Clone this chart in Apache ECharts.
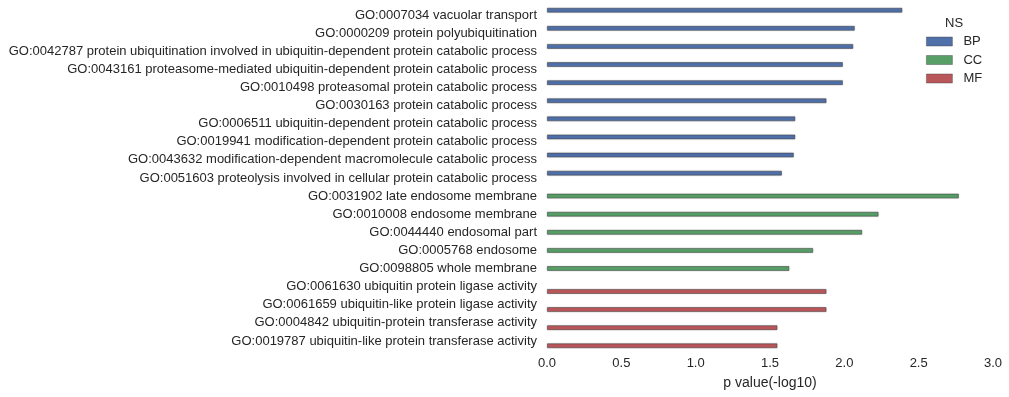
<!DOCTYPE html>
<html>
<head>
<meta charset="utf-8">
<script src="https://cdn.jsdelivr.net/npm/echarts@6/dist/echarts.min.js"></script>
<style>
html,body{margin:0;padding:0;background:#fff;}
#chart{width:1009px;height:397px;}
</style>
</head>
<body>
<div id="chart"></div>
<script>
const categories = [
  "GO:0007034 vacuolar transport",
  "GO:0000209 protein polyubiquitination",
  "GO:0042787 protein ubiquitination involved in ubiquitin-dependent protein catabolic process",
  "GO:0043161 proteasome-mediated ubiquitin-dependent protein catabolic process",
  "GO:0010498 proteasomal protein catabolic process",
  "GO:0030163 protein catabolic process",
  "GO:0006511 ubiquitin-dependent protein catabolic process",
  "GO:0019941 modification-dependent protein catabolic process",
  "GO:0043632 modification-dependent macromolecule catabolic process",
  "GO:0051603 proteolysis involved in cellular protein catabolic process",
  "GO:0031902 late endosome membrane",
  "GO:0010008 endosome membrane",
  "GO:0044440 endosomal part",
  "GO:0005768 endosome",
  "GO:0098805 whole membrane",
  "GO:0061630 ubiquitin protein ligase activity",
  "GO:0061659 ubiquitin-like protein ligase activity",
  "GO:0004842 ubiquitin-protein transferase activity",
  "GO:0019787 ubiquitin-like protein transferase activity"
];
const bpValues = [2.39, 2.07, 2.06, 1.99, 1.99, 1.88, 1.67, 1.67, 1.66, 1.58, null, null, null, null, null, null, null, null, null];
const ccValues = [null, null, null, null, null, null, null, null, null, null, 2.77, 2.23, 2.12, 1.79, 1.63, null, null, null, null];
const mfValues = [null, null, null, null, null, null, null, null, null, null, null, null, null, null, null, 1.88, 1.88, 1.55, 1.55];
const seriesNames = ["BP", "CC", "MF"];
const xTicks = [0, 0.5, 1.0, 1.5, 2.0, 2.5, 3.0];
const colors = ["#5070A9", "#579E67", "#BA575B"];

const chart = echarts.init(document.getElementById('chart'), null, {renderer: 'canvas'});
const font = 'Liberation Sans, Arial, sans-serif';
const textColor = '#262626';

function mkSeries(name, data, color) {
  return {
    name: name,
    type: 'bar',
    data: data,
    barWidth: '26.67%',
    barGap: '0%',
    itemStyle: {color: color, borderColor: 'rgba(60,60,60,0.55)', borderWidth: 0.8, shadowColor: 'rgba(0,0,0,0.25)', shadowBlur: 1.5},
    emphasis: {disabled: true},
    animation: false
  };
}

chart.setOption({
  backgroundColor: '#fff',
  animation: false,
  textStyle: {fontFamily: font},
  grid: {left: 547, right: 16, top: 6, bottom: 47, containLabel: false},
  xAxis: {
    type: 'value',
    min: xTicks[0],
    max: xTicks[xTicks.length - 1],
    interval: 0.5,
    name: 'p value(-log10)',
    nameLocation: 'middle',
    nameGap: 26,
    nameTextStyle: {fontSize: 14, color: textColor, fontFamily: font},
    axisLine: {show: false},
    axisTick: {show: false},
    splitLine: {show: false},
    axisLabel: {fontSize: 13, color: textColor, fontFamily: font, margin: 7,
      formatter: v => v.toFixed(1)}
  },
  yAxis: {
    type: 'category',
    data: categories,
    inverse: true,
    axisLine: {show: false},
    axisTick: {show: false},
    splitLine: {show: false},
    axisLabel: {fontSize: 13, color: textColor, fontFamily: font, margin: 10}
  },
  legend: {
    orient: 'vertical',
    left: 926,
    top: 35,
    padding: 0,
    itemWidth: 26,
    itemHeight: 9,
    itemGap: 5.5,
    icon: 'rect',
    itemStyle: {borderColor: 'rgba(60,60,60,0.5)', borderWidth: 0.8},
    textStyle: {fontSize: 13, color: textColor, fontFamily: font, padding: [0, 0, 0, 6]},
    data: seriesNames
  },
  graphic: [{
    type: 'text',
    left: 945,
    top: 17,
    style: {text: 'NS', fontSize: 13, fill: textColor, fontFamily: font}
  }],
  series: [
    mkSeries(seriesNames[0], bpValues, colors[0]),
    mkSeries(seriesNames[1], ccValues, colors[1]),
    mkSeries(seriesNames[2], mfValues, colors[2])
  ]
});
</script>
</body>
</html>
